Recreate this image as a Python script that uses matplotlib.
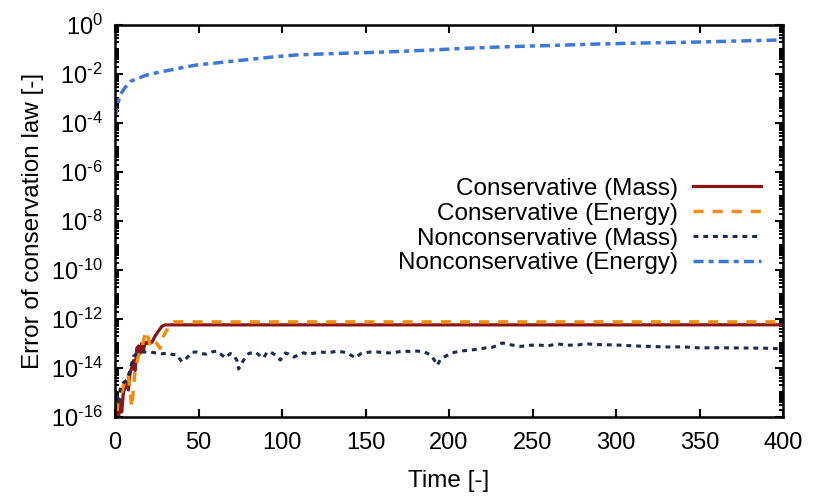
import numpy as np
import matplotlib.pyplot as plt
from matplotlib.ticker import FixedLocator, FixedFormatter, NullFormatter

# Conservative scheme, mass error
t_cm = [0, 1, 2, 3, 4, 5, 6, 7, 8, 9, 10, 11, 12, 13, 14, 15, 16, 17, 18, 19,
        20, 22, 24, 26, 28, 30, 35, 100, 200, 300, 400]
e_cm = [5e-17, 3.2e-16, 6.3e-17, 5e-16, 1.6e-16, 1e-15, 1.6e-15, 2.5e-15, 1.26e-15, 6.3e-15,
        1e-14, 2e-14, 7.9e-15, 6.3e-14, 7.9e-14, 4e-14, 1e-13, 5e-14, 1.1e-13, 1e-13,
        1.26e-13, 1.1e-13, 2e-13, 3.2e-13, 5e-13, 5.75e-13, 5.75e-13, 5.75e-13, 5.75e-13, 5.75e-13, 5.8e-13]

# Conservative scheme, energy error
t_ce = [0, 2, 4, 6, 8, 10, 12, 14, 16, 18, 19, 21, 23, 25, 27, 29, 31, 33, 35, 40,
        100, 200, 300, 400]
e_ce = [3e-17, 6e-16, 1e-15, 3.2e-15, 5e-15, 2.5e-16, 7.9e-15, 3.2e-14, 6.3e-14, 2.5e-13,
        3.2e-13, 7.9e-14, 1.26e-13, 1e-13, 6.3e-14, 2e-13, 3.5e-13, 6.3e-13, 7.6e-13, 7.6e-13,
        7.6e-13, 7.6e-13, 7.6e-13, 7.6e-13]

# Nonconservative scheme, mass error
t_nm = [0, 1, 2, 3, 5, 7, 9, 11, 13, 15, 18, 21, 25, 28, 31, 34, 37, 40, 43, 46,
        49, 52, 55, 58, 61, 64, 66, 69, 71, 73, 74, 77, 80, 84, 87, 89, 91, 93, 96, 99,
        102, 104, 107, 110, 113, 115, 119, 123, 128, 133, 138, 141, 144, 147, 149, 153, 157, 161, 166, 170,
        173, 177, 181, 185, 189, 191, 193, 195, 197, 202, 207, 212, 217, 222, 226, 229, 232, 237, 243, 248,
        253, 259, 265, 271, 277, 282, 286, 292, 300, 310, 320, 330, 340, 350, 360, 370, 380, 390, 400]
e_nm = [2e-16, 7e-16, 4e-16, 1.3e-15, 2.5e-15, 3.2e-15, 8e-15, 3e-14, 3.8e-14, 4.4e-14,
        4.5e-14, 4.4e-14, 4.1e-14, 3.8e-14, 4e-14, 3.6e-14, 3.4e-14, 1.8e-14, 2.6e-14, 4.4e-14,
        4.5e-14, 3.8e-14, 3.7e-14, 4.5e-14, 4.9e-14, 3.4e-14, 2.6e-14, 3.9e-14, 3.4e-14, 2e-14,
        9.1e-15, 2.1e-14, 3.9e-14, 4.5e-14, 3.1e-14, 2.6e-14, 4.4e-14, 4.5e-14, 3.4e-14, 2.1e-14,
        4.1e-14, 3.7e-14, 2.8e-14, 3.4e-14, 4.2e-14, 3.7e-14, 4e-14, 4.5e-14, 4.2e-14, 4.9e-14,
        4.3e-14, 3.4e-14, 2.6e-14, 3.8e-14, 4.1e-14, 4.5e-14, 4.5e-14, 4.2e-14, 4.1e-14, 4.6e-14,
        4.9e-14, 4.7e-14, 4.9e-14, 4.6e-14, 3.4e-14, 2.2e-14, 1.3e-14, 2.3e-14, 2.8e-14, 4.2e-14,
        4.9e-14, 5.3e-14, 5.8e-14, 6.6e-14, 7e-14, 8.5e-14, 1.05e-13, 8.8e-14, 7.6e-14, 8.4e-14,
        8.7e-14, 8e-14, 9.6e-14, 8.5e-14, 8.7e-14, 9.8e-14, 9.2e-14, 8.9e-14, 8.7e-14, 8e-14,
        7.6e-14, 7.2e-14, 7.3e-14, 6.6e-14, 6.7e-14, 6.6e-14, 6.5e-14, 6.4e-14, 6e-14]

# Nonconservative scheme, energy error
t_ne = [0, 1, 3, 6, 9, 14, 19, 26, 33, 41, 49, 58, 67, 80, 95, 109, 130, 149, 170, 189,
        210, 235, 260, 290, 320, 350, 375, 400]
e_ne = [1.6e-4, 4.0e-4, 1.38e-3, 2.8e-3, 4.9e-3, 6.8e-3, 9.1e-3, 1.17e-2, 1.45e-2, 1.86e-2,
        2.34e-2, 2.7e-2, 3.16e-2, 3.9e-2, 5.0e-2, 6.0e-2, 6.8e-2, 7.4e-2, 8.3e-2, 9.5e-2,
        0.112, 0.13, 0.145, 0.168, 0.186, 0.202, 0.224, 0.245]

labels = ['Conservative (Mass)', 'Conservative (Energy)',
          'Nonconservative (Mass)', 'Nonconservative (Energy)']

plt.rcParams['font.family'] = ['Liberation Sans', 'DejaVu Sans']
plt.rcParams['mathtext.fontset'] = 'custom'
plt.rcParams['mathtext.rm'] = 'Liberation Sans'
plt.rcParams['mathtext.it'] = 'Liberation Sans'

fig, ax = plt.subplots(figsize=(8.3, 4.98), dpi=100)
fig.subplots_adjust(left=0.1386, right=0.9434, bottom=0.1627, top=0.9498)

ax.plot(t_cm, e_cm, color='#8b1414', lw=2.3, label=labels[0])
ax.plot(t_ce, e_ce, color='#f28c0c', lw=2.5, dashes=(2.9, 2.6), label=labels[1])
ax.plot(t_nm, e_nm, color='#1c2b52', lw=2.2, dashes=(1.6, 1.6), label=labels[2])
ax.plot(t_ne, e_ne, color='#3c78d8', lw=2.5, dashes=(2.9, 1.45, 1.45, 1.45), label=labels[3])

ax.set_yscale('log')
ax.set_xlim(0, 400)
ax.set_ylim(1e-16, 1)

ax.set_xticks(np.arange(0, 401, 50))
exps = list(range(-16, 1, 2))
ax.yaxis.set_major_locator(FixedLocator([10.0**k for k in exps]))
ax.yaxis.set_major_formatter(FixedFormatter(
    [r'$\mathregular{10^{%s}}$' % (str(k).replace('-', r'\text{-}')) for k in exps]))
minor = [m * 10.0**k for k in range(-16, 0) for m in range(1, 10)
         if not (m == 1 and k % 2 == 0)]
ax.yaxis.set_minor_locator(FixedLocator(minor))
ax.yaxis.set_minor_formatter(NullFormatter())

ax.tick_params(which='both', direction='in', top=True, right=True, width=1.5,
               labelsize=17)
ax.tick_params(axis='x', pad=11)
ax.tick_params(axis='y', pad=9)
ax.tick_params(which='major', length=6)
ax.tick_params(which='minor', length=3)
for s in ax.spines.values():
    s.set_linewidth(1.8)

ax.set_xlabel('Time [-]', fontsize=17.5, labelpad=11)
ax.set_ylabel('Error of conservation law [-]', fontsize=17.5, labelpad=5)

ax.legend(loc='center right', bbox_to_anchor=(0.985, 0.487), frameon=False,
          markerfirst=False, fontsize=17.5, handlelength=2.8, labelspacing=0.12,
          borderpad=0, handletextpad=0.6)

fig.savefig('out.png', dpi=100)
